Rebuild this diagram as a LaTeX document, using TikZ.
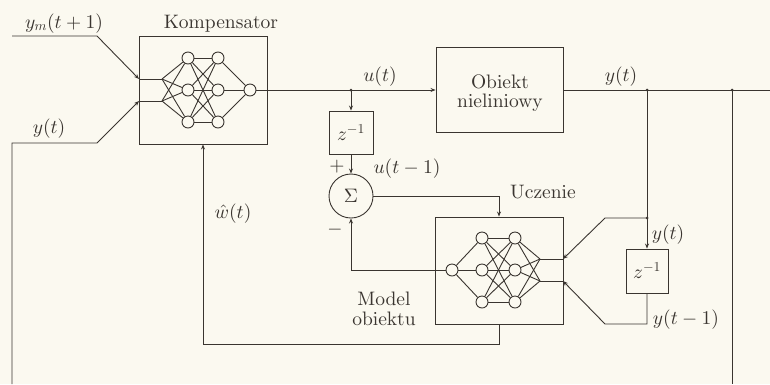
\documentclass[tikz,border=0pt]{standalone}
\usepackage{fontspec}
\DeclareFontShape{OML}{cmm}{m}{it}{<-> cmmi10}{}
\DeclareFontShape{OMS}{cmsy}{m}{n}{<-> cmsy10}{}
\DeclareFontShape{OT1}{cmr}{m}{n}{<-> cmr10}{}
\newcommand\cmtext{\fontencoding{OT1}\fontfamily{cmr}\selectfont}
\usetikzlibrary{arrows.meta,calc}
\definecolor{ink}{RGB}{58,53,48}
\definecolor{paper}{RGB}{251,249,240}
\begin{document}
\begin{tikzpicture}[x=1pt,y=-1pt,line width=0.9pt,
  blk/.style={draw=ink,inner sep=0pt,line width=0.9pt},
  neu/.style={circle,draw=ink,fill=paper,minimum size=12pt,inner sep=0pt},
  lab/.style={font=\fontsize{19.5}{22}\cmtext,text=ink,inner sep=0pt},
  arr/.style={-{Stealth[length=5pt,width=4pt]}},
  jdot/.style={circle,fill=ink,inner sep=0pt,minimum size=3pt}]
\fill[paper] (0,0) rectangle (770,384);
\useasboundingbox (0,0) rectangle (770,384);
\begin{scope}[draw=ink]
% boxes
\node[blk,minimum width=128pt,minimum height=108pt] (komp) at (203,90) {};
\node[blk,minimum width=127pt,minimum height=85pt] (obj) at (499.5,90) {};
\node[blk,minimum width=128pt,minimum height=107pt] (model) at (499,270.5) {};
\node[blk,minimum width=44pt,minimum height=43pt,lab] (zl) at (351,132.5) {$z^{-1}$};
\node[blk,minimum width=42pt,minimum height=44pt,lab] (zr) at (647,271) {$z^{-1}$};
\node[blk,circle,minimum size=44pt,lab] (sum) at (351,196) {$\Sigma$};
% kompensator network
\foreach \n/\y in {1/58,2/90,3/122}{
  \node[neu] (ka\n) at (188,\y) {};
  \node[neu] (kb\n) at (218,\y) {};
}
\node[neu] (ko) at (250,90) {};
\coordinate (kin1) at (139,79);
\coordinate (kin2) at (139,101);
\coordinate (kf1) at (162,79);
\coordinate (kf2) at (162,101);
\draw (kin1) -- (kf1);
\draw (kin2) -- (kf2);
\foreach \n in {1,2,3}{
  \draw (kf1) -- (ka\n);
  \draw (kf2) -- (ka\n);
  \draw (kb\n) -- (ko);
  \foreach \m in {1,2,3}{\draw (ka\n) -- (kb\m);}
}
% model network
\foreach \n/\y in {1/238,2/270,3/302}{
  \node[neu] (ma\n) at (482,\y) {};
  \node[neu] (mb\n) at (515,\y) {};
}
\node[neu] (mo) at (452,270) {};
\coordinate (min1) at (563,259);
\coordinate (min2) at (563,281);
\coordinate (mf1) at (540,259);
\coordinate (mf2) at (540,281);
\draw (min1) -- (mf1);
\draw (min2) -- (mf2);
\foreach \n in {1,2,3}{
  \draw (mf1) -- (mb\n);
  \draw (mf2) -- (mb\n);
  \draw (ma\n) -- (mo);
  \foreach \m in {1,2,3}{\draw (mb\n) -- (ma\m);}
}
% inputs of kompensator
\coordinate (ymS) at (12,36);
\coordinate (ymB) at (97,36);
\coordinate (botL) at (12,384);
\coordinate (ytL) at (12,143);
\coordinate (ytB) at (97,143);
\draw[arr] (ymS) -- (ymB) -- (kin1);
\draw[arr] (botL) -- (ytL) -- (ytB) -- (kin2);
% u(t)
\draw[arr] (ko) -- (obj.west);
\coordinate (uJ) at (351,90);
\node[jdot] at (uJ) {};
\draw[arr] (uJ) -- (zl.north);
\draw[arr] (zl.south) -- (sum.north);
\draw[arr] (sum.east) -| (model.north);
\draw[arr] (mo.west) -| (sum.south);
% w hat
\coordinate (wL) at (203,344);
\draw[arr] (model.south) |- (wL) -- (komp.south);
% output
\coordinate (outE) at (770,90);
\coordinate (jY) at (647,90);
\coordinate (jR) at (732,90);
\coordinate (botR) at (732,384);
\draw (obj.east) -- (outE);
\node[jdot] at (jY) {};
\node[jdot] at (jR) {};
\draw (jR) -- (botR);
\draw[arr] (jY) -- (zr.north);
\coordinate (jY2) at (647,218);
\node[jdot] at (jY2) {};
\coordinate (ya) at (605,218);
\coordinate (yb) at (605,324);
\draw[arr] (jY2) -- (ya) -- (min1);
\draw[arr] (zr.south) |- (yb) -- (min2);
\end{scope}
% labels
\node[lab,anchor=base] (lym) at (64,28) {$y_m(t+1)$};
\node[lab,anchor=base] (lkomp) at (221,28) {Kompensator};
\node[lab,anchor=base] (lyt) at (49,133) {$y(t)$};
\node[lab,anchor=base] (lut) at (380,81) {$u(t)$};
\node[lab,anchor=base] (lob1) at (500,88) {Obiekt};
\node[lab,anchor=base] (lob2) at (500,107) {nieliniowy};
\node[lab,anchor=base] (lyt2) at (621,81) {$y(t)$};
\node[lab] (lplus) at (337,167) {$+$};
\node[lab,anchor=base] (lut1) at (407,173) {$u(t-1)$};
\node[lab,anchor=base] (lucz) at (543,198) {Uczenie};
\node[lab,anchor=base] (lw) at (233,218) {$\hat{w}(t)$};
\node[lab] (lminus) at (335,230) {$-$};
\node[lab,anchor=base] (lmod1) at (384,305) {Model};
\node[lab,anchor=base] (lmod2) at (384,325) {obiektu};
\node[lab,anchor=base] (lyt3) at (668,239) {$y(t)$};
\node[lab,anchor=base] (lyt4) at (686,324) {$y(t-1)$};
\end{tikzpicture}
\end{document}
